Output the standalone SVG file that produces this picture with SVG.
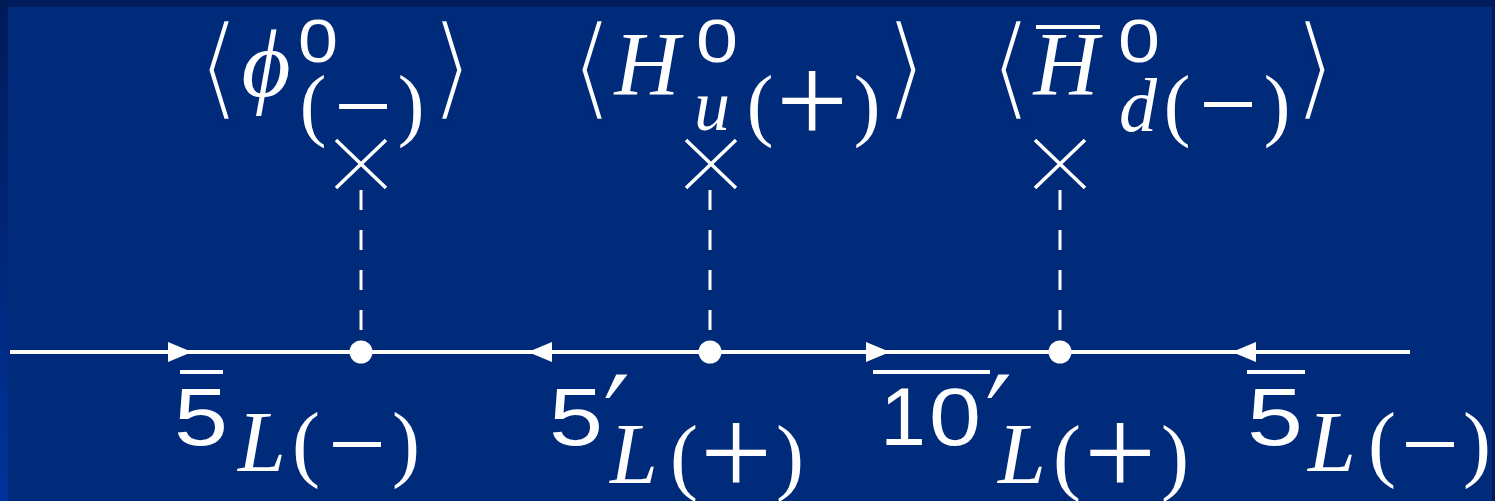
<svg xmlns="http://www.w3.org/2000/svg" width="1495" height="501" viewBox="0 0 1495 501">
<defs>
<linearGradient id="lb" x1="0" y1="0" x2="0" y2="1"><stop offset="0" stop-color="#001a58"/><stop offset="1" stop-color="#00339a"/></linearGradient>
<marker id="arr" viewBox="0 0 24 20" refX="24" refY="10" markerWidth="24" markerHeight="20" markerUnits="userSpaceOnUse" orient="auto"><path d="M0,0 L24,10 L0,20 Z" fill="#fff"/></marker>
<style>
.m{font-family:"Liberation Serif","DejaVu Serif",serif;fill:#fff;text-anchor:middle}
.i{font-style:italic}
.s{font-family:"Liberation Sans","DejaVu Sans",sans-serif;fill:#fff;text-anchor:middle}
.b{font-family:"DejaVu Serif","DejaVu Sans",serif;fill:#fff;text-anchor:middle;font-size:115px;stroke:#002a7a;stroke-width:5}
.p{font-family:"DejaVu Sans",sans-serif;fill:#fff;text-anchor:middle;font-size:140px;stroke:#002a7a;stroke-width:2}
.sup{font-size:62px}
.mn{font-size:100px}
.pl{font-size:128px}
.ln{stroke:#fff;stroke-width:4;fill:none}
.ds{stroke:#fff;stroke-width:3;stroke-dasharray:20 20;fill:none}
.x{stroke:#fff;stroke-width:3.5;fill:none}
.bar{stroke:#fff;stroke-width:4}
</style>
</defs>
<rect width="1495" height="501" fill="#002a7a"/>
<rect width="1495" height="7" fill="#001c5c"/>
<rect y="0" width="8" height="501" fill="url(#lb)"/>
<rect x="1492" y="0" width="3" height="501" fill="#001c5c"/>

<g id="connectors">
<path class="ln" d="M10,352 L192,352" marker-end="url(#arr)"/>
<path class="ln" d="M192,352 L361,352"/>
<path class="ln" d="M709,352 L528,352" marker-end="url(#arr)"/>
<path class="ln" d="M528,352 L361,352"/>
<path class="ln" d="M709,352 L890,352" marker-end="url(#arr)"/>
<path class="ln" d="M890,352 L1060,352"/>
<path class="ln" d="M1410,352 L1232,352" marker-end="url(#arr)"/>
<path class="ln" d="M1232,352 L1060,352"/>
<path class="ds" d="M361,190 L361,352"/>
<path class="ds" d="M710,190 L710,352"/>
<path class="ds" d="M1060,190 L1060,352"/>
</g>

<g id="vertex-phi">
<circle cx="361" cy="352" r="11.5" fill="#fff"/>
<path class="x" d="M336,140 L386,188 M386,140 L336,188"/>
</g>
<g id="vertex-hu">
<circle cx="710" cy="352" r="11.5" fill="#fff"/>
<path class="x" d="M686,140 L736,188 M736,140 L686,188"/>
</g>
<g id="vertex-hd">
<circle cx="1060" cy="352" r="11.5" fill="#fff"/>
<path class="x" d="M1035,140 L1085,188 M1085,140 L1035,188"/>
</g>

<g id="label-phi">
<text class="b" x="219" y="106">⟨</text>
<text class="m i" x="266" y="96" font-size="95">ϕ</text>
<text class="s sup" x="318" y="62" textLength="40" lengthAdjust="spacingAndGlyphs">0</text>
<text class="m" x="313" y="131" font-size="80">(</text>
<text class="m mn" x="363" y="140" textLength="58" lengthAdjust="spacingAndGlyphs">−</text>
<text class="m" x="411" y="131" font-size="80">)</text>
<text class="b" x="452" y="106">⟩</text>
</g>
<g id="label-hu">
<text class="b" x="592" y="106">⟨</text>
<text class="m i" x="647" y="95" font-size="90">H</text>
<text class="s sup" x="717" y="62" textLength="42" lengthAdjust="spacingAndGlyphs">0</text>
<text class="m i" x="712" y="130" font-size="72">u</text>
<text class="m" x="760" y="131" font-size="80">(</text>
<text class="m pl" x="812" y="143">+</text>
<text class="m" x="867" y="131" font-size="80">)</text>
<text class="b" x="906" y="106">⟩</text>
</g>
<g id="label-hd">
<text class="b" x="1011" y="106">⟨</text>
<text class="m i" x="1066" y="95" font-size="90">H</text>
<line class="bar" x1="1036" y1="27" x2="1100" y2="27"/>
<text class="s sup" x="1139" y="62" textLength="42" lengthAdjust="spacingAndGlyphs">0</text>
<text class="m i" x="1138" y="131" font-size="76">d</text>
<text class="m" x="1177" y="131" font-size="80">(</text>
<text class="m mn" x="1228" y="138" textLength="58" lengthAdjust="spacingAndGlyphs">−</text>
<text class="m" x="1277" y="131" font-size="80">)</text>
<text class="b" x="1315" y="106">⟩</text>
</g>

<g id="label-5bar-left">
<line class="bar" x1="180" y1="372" x2="223" y2="372"/>
<text class="s" x="201" y="445" font-size="82" textLength="54" lengthAdjust="spacingAndGlyphs">5</text>
<text class="m i" x="262" y="471" font-size="86">L</text>
<text class="m" x="306" y="471" font-size="84">(</text>
<text class="m mn" x="357" y="478" textLength="58" lengthAdjust="spacingAndGlyphs">−</text>
<text class="m" x="406" y="471" font-size="84">)</text>
</g>
<g id="label-5prime">
<text class="s" x="576" y="445" font-size="82" textLength="54" lengthAdjust="spacingAndGlyphs">5</text>
<text class="p" x="617" y="476">′</text>
<text class="m i" x="634" y="483" font-size="86">L</text>
<text class="m" x="684" y="484" font-size="84">(</text>
<text class="m pl" x="736" y="495">+</text>
<text class="m" x="790" y="484" font-size="84">)</text>
</g>
<g id="label-10bar-prime">
<line class="bar" x1="873" y1="372" x2="990" y2="372"/>
<text class="s" x="903" y="445" font-size="82">1</text>
<text class="s" x="955" y="445" font-size="82" textLength="52" lengthAdjust="spacingAndGlyphs">0</text>
<text class="p" x="999" y="476">′</text>
<text class="m i" x="1022" y="483" font-size="86">L</text>
<text class="m" x="1067" y="484" font-size="84">(</text>
<text class="m pl" x="1120" y="495">+</text>
<text class="m" x="1175" y="484" font-size="84">)</text>
</g>
<g id="label-5bar-right">
<line class="bar" x1="1247" y1="372" x2="1305" y2="372"/>
<text class="s" x="1275" y="445" font-size="82" textLength="56" lengthAdjust="spacingAndGlyphs">5</text>
<text class="m i" x="1332" y="471" font-size="86">L</text>
<text class="m" x="1382" y="471" font-size="84">(</text>
<text class="m mn" x="1430" y="478" textLength="58" lengthAdjust="spacingAndGlyphs">−</text>
<text class="m" x="1477" y="471" font-size="84">)</text>
</g>
</svg>
